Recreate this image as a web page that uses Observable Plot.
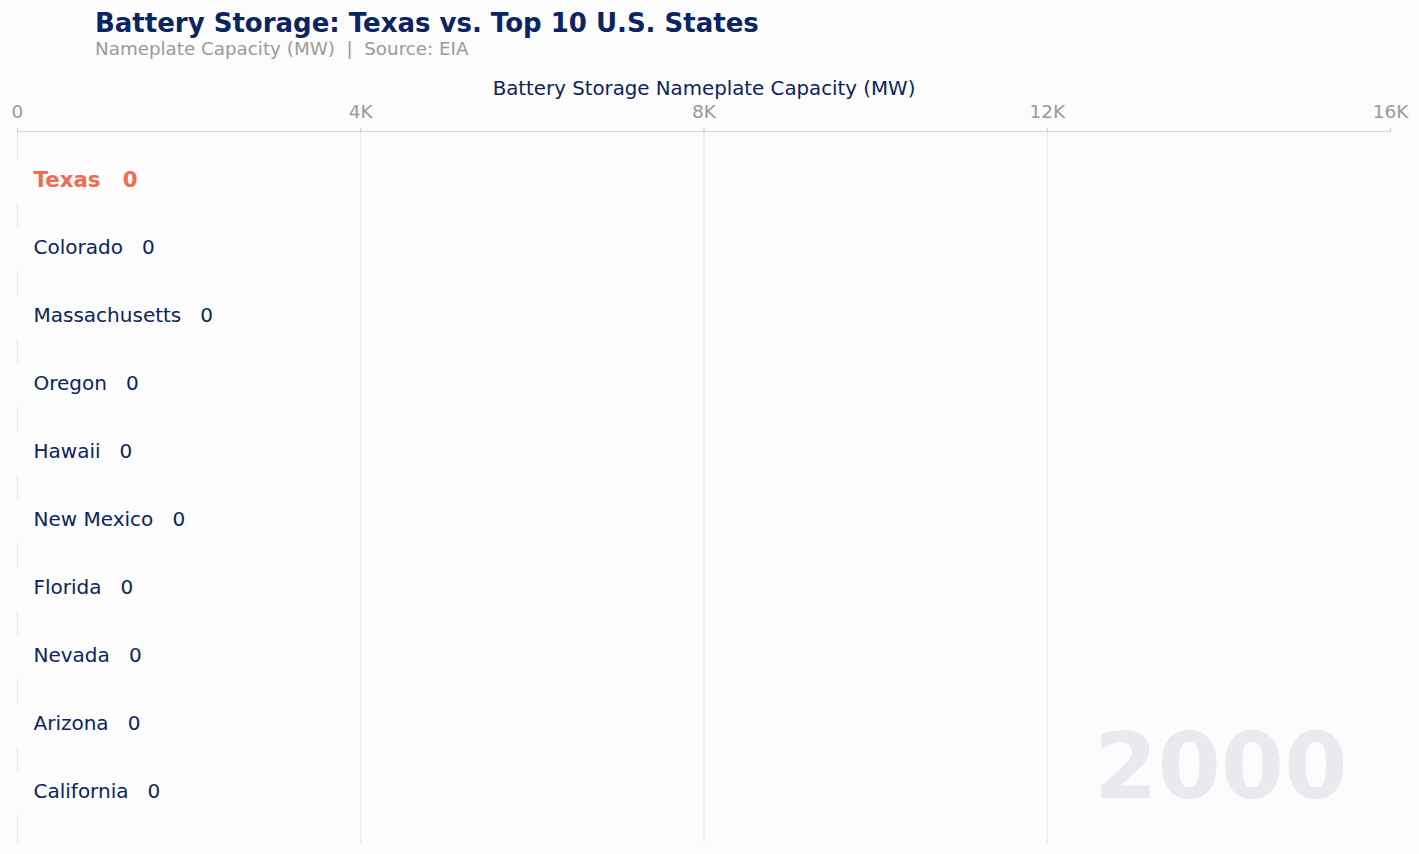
<!DOCTYPE html>
<html>
<head>
<meta charset="utf-8">
<script src="https://cdn.jsdelivr.net/npm/d3@7"></script>
<script src="https://cdn.jsdelivr.net/npm/@observablehq/plot@0.6"></script>
<style>
  html, body { margin: 0; padding: 0; background: #fcfcfc; }
  body { width: 1419px; height: 854px; position: relative; overflow: hidden; font-family: "DejaVu Sans", sans-serif; }
  #header { position: relative; height: 62px; }
  #title { position: absolute; left: 95px; top: 8px; font-size: 26px; font-weight: bold; color: #0b2463; white-space: pre; }
  #subtitle { position: absolute; left: 95px; top: 38px; font-size: 18.3px; color: #9a9a9a; white-space: pre; }
  svg text { white-space: pre; }
</style>
</head>
<body>
<div id="header">
  <div id="title">Battery Storage: Texas vs. Top 10 U.S. States</div>
  <div id="subtitle">Nameplate Capacity (MW)  |  Source: EIA</div>
</div>
<div id="chart"></div>
<script>
const year = 2000;
const states = ["Texas", "Colorado", "Massachusetts", "Oregon", "Hawaii", "New Mexico", "Florida", "Nevada", "Arizona", "California"];
const capacityMW = [0, 0, 0, 0, 0, 0, 0, 0, 0, 0];
const xTicks = [0, 4000, 8000, 12000, 16000];
const gridTicks = [0, 4000, 8000, 12000];
const axisLabel = "Battery Storage Nameplate Capacity (MW)";
const highlight = "Texas";

const navy = "#0b2463";
const coral = "#f26a50";
const bg = "#fcfcfc";

const data = states.map((s, i) => ({state: s, value: capacityMW[i]}));
const hiData = data.filter(d => d.state === highlight);
const otherData = data.filter(d => d.state !== highlight);
const fmt = d => d === 0 ? "0" : (d / 1000) + "K";
const labelText = d => `${d.state}   ${d.value.toLocaleString("en-US")}`;

const chart = Plot.plot({
  width: 1419,
  height: 792,
  marginLeft: 17,
  marginRight: 29,
  marginTop: 69,
  marginBottom: 11,
  style: {background: bg, fontFamily: "DejaVu Sans, sans-serif"},
  x: {domain: [0, 16000], axis: null},
  y: {domain: states, padding: 0.37, axis: null},
  marks: [
    Plot.gridX(gridTicks, {stroke: "#e6e6ec", strokeOpacity: 1}),
    Plot.frame({anchor: "top", stroke: "#d8d8dc"}),
    Plot.axisX(xTicks, {anchor: "top", tickSize: 4, tickPadding: 10, tickFormat: fmt, stroke: "#c8c8cc", fill: "#999999", fontSize: 18.5, label: null}),
    Plot.text([axisLabel], {frameAnchor: "top", dy: -51, fill: navy, fontSize: 19.8}),
    Plot.text([String(year)], {frameAnchor: "bottom-right", textAnchor: "end", lineAnchor: "bottom", dx: -43, dy: -46, fill: "#e9e9f0", fontSize: 91, fontWeight: "bold"}),
    Plot.barX(data, {x1: 0, x2: "value", y: "state", fill: d => d.state === highlight ? coral : navy}),
    Plot.tickX(data, {x: "value", y: "state", stroke: bg, strokeWidth: 3}),
    Plot.text(otherData, {x: "value", y: "state", dx: 16, dy: -2, textAnchor: "start", text: labelText, fill: navy, fontSize: 20}),
    Plot.text(hiData, {x: "value", y: "state", dx: 16, dy: -2, textAnchor: "start", text: labelText, fill: coral, fontSize: 21.3, fontWeight: "bold"})
  ]
});
document.getElementById("chart").appendChild(chart);
</script>
</body>
</html>
